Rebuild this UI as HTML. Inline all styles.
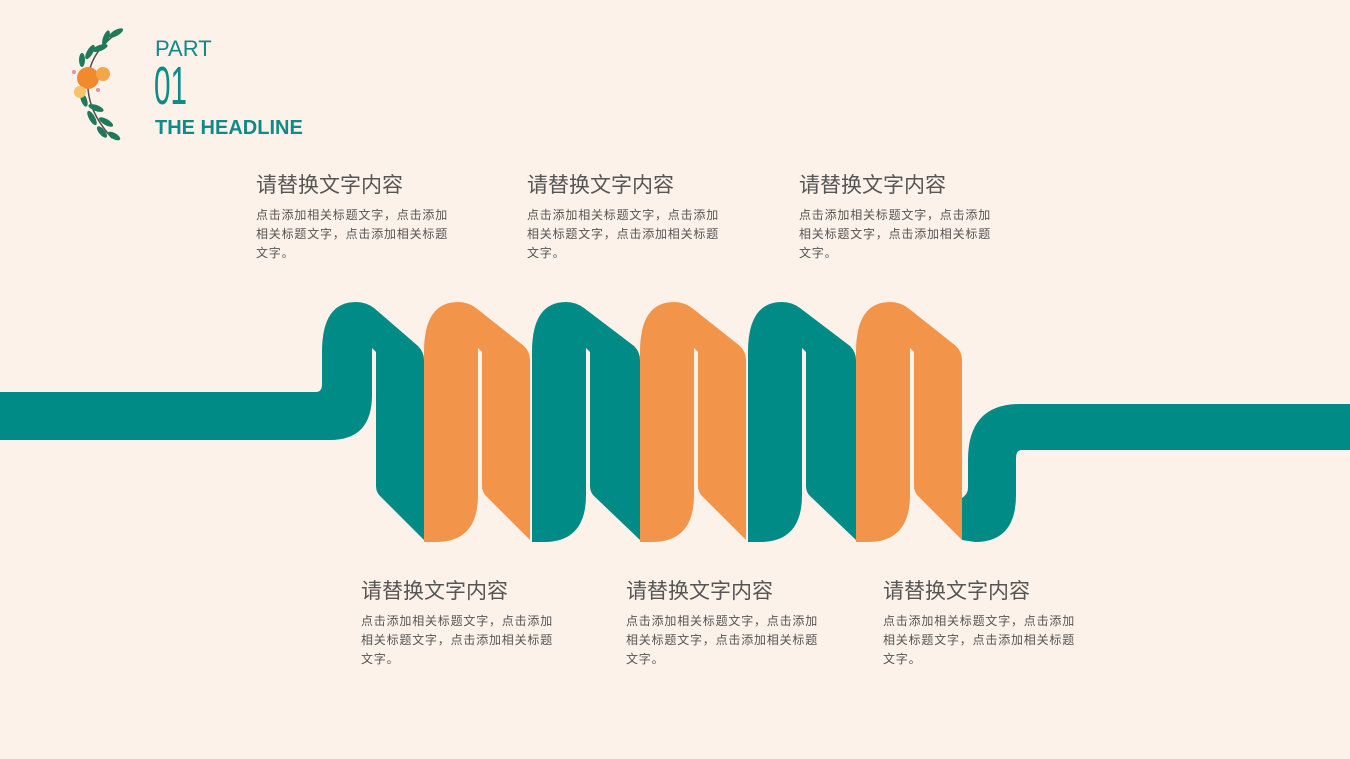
<!DOCTYPE html>
<html><head><meta charset="utf-8"><style>
body{margin:0;width:1350px;height:759px;background:#fdf2e9;position:relative;overflow:hidden;font-family:"Liberation Sans","Noto Sans CJK SC",sans-serif}
.t{position:absolute;color:#555}
.t h{display:block;font-size:21px;line-height:24px;color:#555;white-space:nowrap}
.t p{margin:8px 0 0;font-size:12px;line-height:19px;width:198px;letter-spacing:0.8px;color:#555}
</style></head><body>
<svg width="1350" height="759" style="position:absolute;left:0;top:0">
<g fill="#008b87">
<path d="M0,392 L316,392 Q322,392 322,384 L322,352 Q322,302 356,302 Q366,302 374,308 L418,346 Q424,352 424,360 L424,540 L380,496 Q376,492 376,486 L376,352 L372,348 L372,395 Q372,440 330,440 L0,440 Z"/>
<path d="M962,540 L962,498 Q968,494 968,488 L968,460 Q968,404 1020,404 L1350,404 L1350,450 L1022,450 Q1016,450 1016,458 L1016,495 Q1016,542 975,542 Z"/>
</g>
<path fill="#f2954a" d="M424,540 L424,352 Q424,302 458,302 Q468,302 476,308 L524,346 Q530,352 530,360 L530,540 L486,496 Q482,492 482,486 L482,352 L478,348 L478,495 Q478,542 436,542 L424,542 Z"/>
<path fill="#008b87" d="M532,540 L532,352 Q532,302 566,302 Q576,302 584,308 L634,346 Q640,352 640,360 L640,540 L594,496 Q590,492 590,486 L590,352 L586,348 L586,495 Q586,542 544,542 L532,542 Z"/>
<path fill="#f2954a" d="M640,540 L640,352 Q640,302 674,302 Q684,302 692,308 L740,346 Q746,352 746,360 L746,540 L702,496 Q698,492 698,486 L698,352 L694,348 L694,495 Q694,542 652,542 L640,542 Z"/>
<path fill="#008b87" d="M748,540 L748,352 Q748,302 782,302 Q792,302 800,308 L850,346 Q856,352 856,360 L856,540 L810,496 Q806,492 806,486 L806,352 L802,348 L802,495 Q802,542 760,542 L748,542 Z"/>
<path fill="#f2954a" d="M856,540 L856,352 Q856,302 890,302 Q900,302 908,308 L956,346 Q962,352 962,360 L962,540 L918,496 Q914,492 914,486 L914,352 L910,348 L910,495 Q910,542 868,542 L856,542 Z"/>
<g>
<path d="M122,30 Q90,50 88,80 Q86,110 112,138" stroke="#5a4a4a" stroke-width="1.5" fill="none"/>
<g fill="#1f7a5c">
<ellipse cx="116" cy="33" rx="8" ry="3" transform="rotate(-30 116 33)"/>
<ellipse cx="106" cy="38" rx="3" ry="8" transform="rotate(20 106 38)"/>
<ellipse cx="100" cy="48" rx="8" ry="3" transform="rotate(-20 100 48)"/>
<ellipse cx="90" cy="52" rx="3" ry="8" transform="rotate(30 90 52)"/>
<ellipse cx="82" cy="60" rx="3" ry="7"/>
<ellipse cx="84" cy="100" rx="3" ry="7" transform="rotate(-20 84 100)"/>
<ellipse cx="96" cy="108" rx="8" ry="3" transform="rotate(20 96 108)"/>
<ellipse cx="92" cy="118" rx="3" ry="8" transform="rotate(-30 92 118)"/>
<ellipse cx="106" cy="122" rx="8" ry="3" transform="rotate(30 106 122)"/>
<ellipse cx="102" cy="132" rx="3" ry="7" transform="rotate(-40 102 132)"/>
<ellipse cx="114" cy="136" rx="3" ry="7" transform="rotate(-60 114 136)"/>
</g>
<circle cx="88" cy="78" r="11" fill="#f08a2c"/>
<circle cx="103" cy="74" r="7" fill="#f4a648"/>
<circle cx="80" cy="92" r="6" fill="#f7c36a"/>
<circle cx="74" cy="72" r="2" fill="#f28aa0"/>
<circle cx="98" cy="90" r="2" fill="#f28aa0"/>
</g>
</svg>
<div style="position:absolute;left:155px;top:37px;color:#0e8a87;font-size:22px;line-height:24px">PART</div>
<div style="position:absolute;left:154px;top:56px;color:#0e8a87;font-size:54px;line-height:60px;transform:scaleX(0.55);transform-origin:left">01</div>
<div style="position:absolute;left:155px;top:117px;color:#0e8a87;font-size:20px;font-weight:bold;line-height:22px">THE HEADLINE</div>

<div class="t" style="left:256px;top:174px"><h>请替换文字内容</h><p>点击添加相关标题文字，点击添加相关标题文字，点击添加相关标题文字。</p></div>
<div class="t" style="left:527px;top:174px"><h>请替换文字内容</h><p>点击添加相关标题文字，点击添加相关标题文字，点击添加相关标题文字。</p></div>
<div class="t" style="left:799px;top:174px"><h>请替换文字内容</h><p>点击添加相关标题文字，点击添加相关标题文字，点击添加相关标题文字。</p></div>
<div class="t" style="left:361px;top:580px"><h>请替换文字内容</h><p>点击添加相关标题文字，点击添加相关标题文字，点击添加相关标题文字。</p></div>
<div class="t" style="left:626px;top:580px"><h>请替换文字内容</h><p>点击添加相关标题文字，点击添加相关标题文字，点击添加相关标题文字。</p></div>
<div class="t" style="left:883px;top:580px"><h>请替换文字内容</h><p>点击添加相关标题文字，点击添加相关标题文字，点击添加相关标题文字。</p></div>
</body></html>
